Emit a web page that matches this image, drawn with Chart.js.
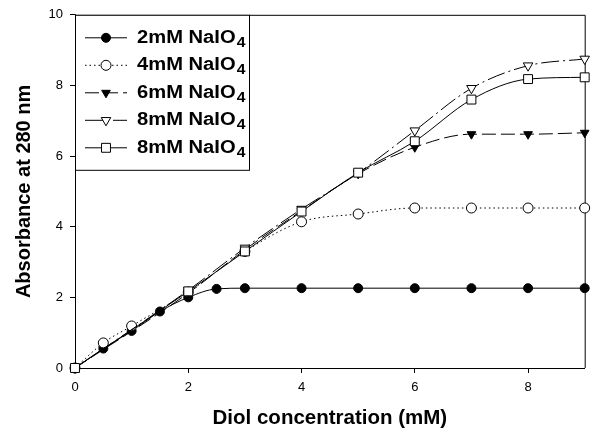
<!DOCTYPE html>
<html>
<head>
<meta charset="utf-8">
<script src="https://cdn.jsdelivr.net/npm/chart.js@4.4.0/dist/chart.umd.min.js"></script>
<style>
    html, body { margin: 0; padding: 0; background: #fff; }
    #wrap { width: 592px; height: 435px; }
</style>
</head>
<body>
<div id="wrap"><canvas id="diolChart" width="592" height="435"></canvas></div>
<script>
// Diol concentration (mM) for each series
const concFine = [0, 0.5, 1, 1.5, 2, 2.5, 3, 4, 5, 6, 7, 8, 9];
const concOpen = [0, 0.5, 1, 2, 3, 4, 5, 6, 7, 8, 9];
const concHigh = [0, 2, 3, 4, 5, 6, 7, 8, 9];

// Absorbance at 280 nm
const abs2mM = [0, 0.55, 1.05, 1.6, 2.0, 2.24, 2.26, 2.26, 2.26, 2.26, 2.26, 2.26, 2.26];
const abs4mM = [0, 0.71, 1.19, 2.15, 3.3, 4.14, 4.36, 4.53, 4.53, 4.53, 4.53];
const abs6mM = [0, 2.12, 3.35, 4.45, 5.5, 6.25, 6.62, 6.62, 6.66];
const abs8mMa = [0, 2.2, 3.4, 4.5, 5.52, 6.72, 7.92, 8.56, 8.75];
const abs8mMb = [0, 2.17, 3.3, 4.43, 5.53, 6.42, 7.6, 8.18, 8.23];

const seriesLabels = ['2mM NaIO', '4mM NaIO', '6mM NaIO', '8mM NaIO', '8mM NaIO'];
const xTicks = [0, 2, 4, 6, 8];
const yTicks = [0, 2, 4, 6, 8, 10];

const FONT = '"Liberation Sans", Arial, sans-serif';

function toPoints(xs, ys) {
    return xs.map((x, i) => ({ x: x, y: ys[i] }));
}

function series(label, xs, ys, style) {
    return Object.assign({
        label: label,
        data: toPoints(xs, ys),
        showLine: true,
        clip: false,
        borderColor: '#000',
        borderWidth: 1,
        pointBorderColor: '#000',
        pointBorderWidth: 1,
        cubicInterpolationMode: 'monotone',
    }, style);
}

const diolData = {
    datasets: [
        series(seriesLabels[0], concFine, abs2mM, {
            pointStyle: 'circle', pointRadius: 4.5, pointBackgroundColor: '#000', order: 4,
        }),
        series(seriesLabels[1], concOpen, abs4mM, {
            pointStyle: 'circle', pointRadius: 5, pointBackgroundColor: '#fff',
            borderDash: [1.5, 3], order: 3,
        }),
        series(seriesLabels[2], concHigh, abs6mM, {
            pointStyle: 'triangle', pointRotation: 180, pointRadius: 5, pointBackgroundColor: '#000',
            borderDash: [14, 5], order: 2,
        }),
        series(seriesLabels[3], concHigh, abs8mMa, {
            pointStyle: 'triangle', pointRotation: 180, pointRadius: 5.5, pointBackgroundColor: '#fff',
            borderDash: [18, 4, 2, 4], order: 1,
        }),
        series(seriesLabels[4], concHigh, abs8mMb, {
            pointStyle: 'rect', pointRadius: 6.3, pointBackgroundColor: '#fff', order: 0,
        }),
    ],
};

// top and right edges of the frame, drawn under the markers
const framePlugin = {
    id: 'frame',
    beforeDatasetsDraw(chart) {
        const { ctx, chartArea: a } = chart;
        ctx.save();
        ctx.strokeStyle = '#000';
        ctx.lineWidth = 1;
        ctx.beginPath();
        ctx.moveTo(a.left, a.top + 0.5);
        ctx.lineTo(a.right + 0.5, a.top + 0.5);
        ctx.lineTo(a.right + 0.5, a.bottom);
        ctx.stroke();
        ctx.restore();
    }
};

// boxed legend in the upper left corner, line sample + marker + subscripted label
const boxLegend = {
    id: 'boxLegend',
    afterDraw(chart) {
        const { ctx, chartArea: a } = chart;
        const left = a.left, top = a.top;
        const w = 174, h = 155, rowH = 27.5;
        ctx.save();
        ctx.fillStyle = '#fff';
        ctx.fillRect(left, top, w, h);
        ctx.strokeStyle = '#000';
        ctx.lineWidth = 1;
        ctx.strokeRect(left + 0.5, top + 0.5, w, h);

        chart.data.datasets.forEach((ds, i) => {
            const y = top + 23 + i * rowH;
            ctx.strokeStyle = '#000';
            ctx.lineWidth = 1;
            ctx.setLineDash(ds.borderDash || []);
            ctx.beginPath();
            ctx.moveTo(left + 10, y);
            ctx.lineTo(left + 52, y);
            ctx.stroke();
            ctx.setLineDash([]);

            ctx.fillStyle = ds.pointBackgroundColor;
            ctx.strokeStyle = '#000';
            Chart.helpers.drawPoint(ctx, {
                pointStyle: ds.pointStyle,
                rotation: ds.pointRotation || 0,
                radius: ds.pointRadius,
                borderWidth: 1,
            }, left + 31, y);

            // the printed label is a little wider than the font, so stretch it
            ctx.save();
            ctx.translate(left + 62, y);
            ctx.scale(1.12, 1);
            ctx.fillStyle = '#000';
            ctx.textBaseline = 'middle';
            ctx.font = 'bold 18px ' + FONT;
            ctx.fillText(ds.label, 0, 0);
            const tw = ctx.measureText(ds.label).width;
            ctx.font = 'bold 14px ' + FONT;
            ctx.fillText('4', tw + 1, 5);
            ctx.restore();
        });
        ctx.restore();
    }
};

const diolConfig = {
    type: 'scatter',
    data: diolData,
    options: {
        responsive: false,
        animation: false,
        layout: {
            padding: { top: 13, right: 6, left: 0, bottom: 0 },
        },
        plugins: {
            legend: { display: false },
            tooltip: { enabled: false },
        },
        scales: {
            x: {
                type: 'linear',
                min: 0,
                max: 9,
                afterFit: (scale) => { scale.height = 67; },
                afterBuildTicks: (scale) => { scale.ticks = xTicks.map(v => ({ value: v })); },
                border: { display: true, color: '#000', width: 1 },
                grid: {
                    display: true,
                    drawOnChartArea: false,
                    drawTicks: true,
                    tickLength: 5,
                    color: '#000',
                },
                ticks: {
                    padding: 7,
                    color: '#000',
                    font: { family: FONT, size: 13 },
                },
                title: {
                    display: true,
                    text: 'Diol concentration (mM)',
                    color: '#000',
                    padding: { top: 0, bottom: 4 },
                    font: { family: FONT, size: 20.5, weight: 'bold' },
                },
            },
            y: {
                type: 'linear',
                min: 0,
                max: 10,
                afterFit: (scale) => { scale.width = 75; },
                afterBuildTicks: (scale) => { scale.ticks = yTicks.map(v => ({ value: v })); },
                border: { display: true, color: '#000', width: 1 },
                grid: {
                    display: true,
                    drawOnChartArea: false,
                    drawTicks: true,
                    tickLength: 5,
                    color: '#000',
                },
                ticks: {
                    padding: 7,
                    color: '#000',
                    font: { family: FONT, size: 13 },
                },
                title: {
                    display: true,
                    text: 'Absorbance at 280 nm',
                    color: '#000',
                    padding: { top: 12, bottom: 0 },
                    font: { family: FONT, size: 20, weight: 'bold' },
                },
            },
        },
    },
    plugins: [framePlugin, boxLegend],
};

const diolCtx = document.getElementById('diolChart').getContext('2d');
const diolChart = new Chart(diolCtx, diolConfig);
</script>
</body>
</html>
